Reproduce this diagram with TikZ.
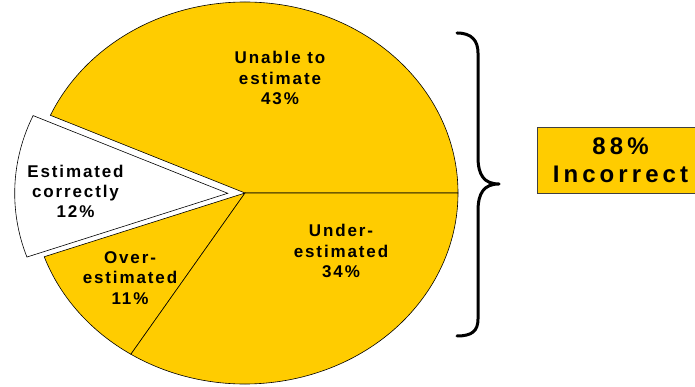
\documentclass[tikz,border=0pt]{standalone}
\usepackage{fontspec}
\usetikzlibrary{calc}
\newfontfamily\lblfont[LetterSpace=11]{Liberation Sans}
\newfontfamily\boxfont[LetterSpace=17]{Liberation Sans}
\definecolor{pieyellow}{HTML}{FFCC00}
\tikzset{
  slice/.style={fill=pieyellow, draw=black, line width=0.6pt},
  wslice/.style={fill=white, draw=black, line width=0.6pt},
  lbl/.style={align=center, inner sep=0pt, font=\lblfont\bfseries\fontsize{17}{20.3}\selectfont},
  bigbox/.style={fill=pieyellow, draw=black!75, line width=0.6pt, minimum width=167pt, minimum height=66pt,
    align=center, inner sep=0pt, font=\boxfont\bfseries\fontsize{24}{28.5}\selectfont},
  bracestyle/.style={line width=3pt, line cap=round, line join=round}
}
\begin{document}
\begin{tikzpicture}[x=1pt,y=1pt]
\clip (0,0) rectangle (695,387);
\useasboundingbox (0,0) rectangle (695,387);
\coordinate (C) at (245,194);
% Unable to estimate 43%
\draw[slice] (C) -- ++(0:213 and 191) arc[start angle=0, end angle=156, x radius=213, y radius=191] -- cycle;
% Over-estimated 11%
\draw[slice] (C) -- ++(199.5:213 and 191) arc[start angle=199.5, end angle=237.6, x radius=213, y radius=191] -- cycle;
% Under-estimated 34%
\draw[slice] (C) -- ++(237.6:213 and 191) arc[start angle=237.6, end angle=360, x radius=213, y radius=191] -- cycle;
% Estimated correctly 12% (exploded)
\coordinate (E) at ($(C)+(-17.3,-0.3)$);
\draw[wslice] (E) -- ++(156:213 and 191) arc[start angle=156, end angle=199.5, x radius=213, y radius=191] -- cycle;
% labels
\node[lbl] (unable) at (280,309) {Unable to\\estimate\\43\%};
\node[lbl] (correct) at (75.5,195.5) {Estimated\\correctly\\12\%};
\node[lbl] (over) at (130,109) {Over-\\estimated\\11\%};
\node[lbl] (under) at (341,136) {Under-\\estimated\\34\%};
% brace
\coordinate (btop) at (457,354);
\coordinate (btip) at (499,203);
\coordinate (bbot) at (457,51);
\draw[bracestyle] (btop) .. controls (472,354) and (478,346) .. (478,334) -- (478,230)
  .. controls (478,212) and (484,203) .. (btip)
  .. controls (484,203) and (478,194) .. (478,176) -- (478,68)
  .. controls (478,56) and (472,51) .. (bbot);
% box
\node[bigbox] (total) at (620.5,227) {88\%\\Incorrect};
\end{tikzpicture}
\end{document}
